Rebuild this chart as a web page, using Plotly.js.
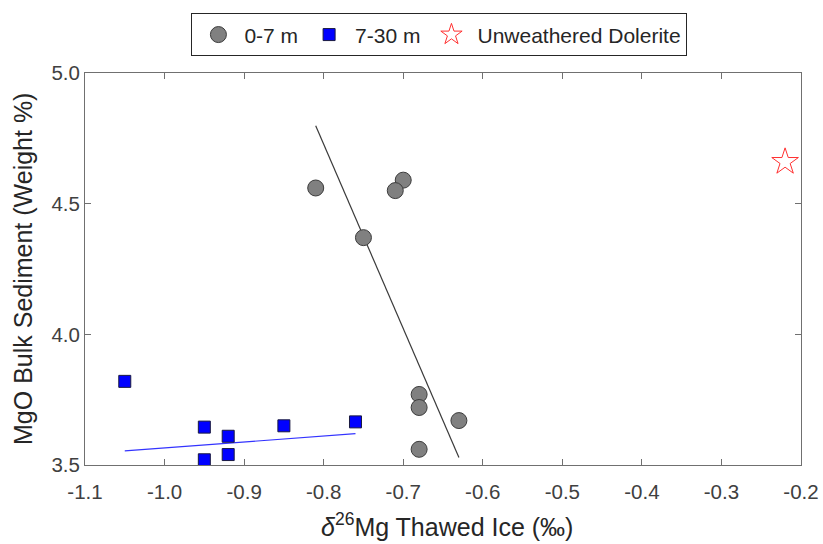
<!DOCTYPE html>
<html>
<head>
<meta charset="utf-8">
<script src="https://cdn.plot.ly/plotly-3.0.1.min.js"></script>
<style>
  html, body { margin: 0; padding: 0; background: #ffffff; }
  #chart { width: 823px; height: 544px; }
</style>
</head>
<body>
<div id="chart"></div>
<script>
// δ26Mg of thawed ice vs. MgO content of bulk sediment
const shallowD26Mg = [-0.81, -0.70, -0.71, -0.75, -0.68, -0.68, -0.63, -0.68];
const shallowMgO   = [4.56, 4.59, 4.55, 4.37, 3.77, 3.72, 3.67, 3.56];

const deepD26Mg = [-1.05, -0.95, -0.95, -0.92, -0.92, -0.85, -0.76];
const deepMgO   = [3.82, 3.645, 3.52, 3.61, 3.54, 3.65, 3.665];

const doleriteD26Mg = [-0.22];
const doleriteMgO   = [4.66];

// Regression lines (end points)
const shallowFitX = [-0.81, -0.63];
const shallowFitY = [4.798, 3.529];
const deepFitX = [-1.05, -0.76];
const deepFitY = [3.554, 3.62];

const xTicks = [-1.1, -1.0, -0.9, -0.8, -0.7, -0.6, -0.5, -0.4, -0.3, -0.2];
const xTickLabels = ['-1.1', '-1.0', '-0.9', '-0.8', '-0.7', '-0.6', '-0.5', '-0.4', '-0.3', '-0.2'];
const yTicks = [3.5, 4.0, 4.5, 5.0];
const yTickLabels = ['3.5', '4.0', '4.5', '5.0'];

const xTitle = '<i>δ</i><sup>26</sup>Mg Thawed Ice (‰)';
const yTitle = 'MgO Bulk Sediment (Weight %)';

const FONT = 'Liberation Sans, Arial, Helvetica, sans-serif';
const INK = '#262626';

const traces = [
  {
    x: shallowFitX, y: shallowFitY, mode: 'lines', showlegend: false, hoverinfo: 'skip',
    line: { color: '#3a3a3a', width: 1.2 }
  },
  {
    x: deepFitX, y: deepFitY, mode: 'lines', showlegend: false, hoverinfo: 'skip',
    line: { color: '#3333ff', width: 1.2 }
  },
  {
    x: shallowD26Mg, y: shallowMgO, mode: 'markers', name: '0-7 m',
    marker: { symbol: 'circle', size: 16, color: '#808080', line: { color: '#3c3c3c', width: 1 } }
  },
  {
    x: deepD26Mg, y: deepMgO, mode: 'markers', name: '7-30 m',
    marker: { symbol: 'square', size: 12, color: '#0000ff', line: { color: '#1a1a40', width: 1 } }
  },
  {
    x: doleriteD26Mg, y: doleriteMgO, mode: 'markers', name: 'Unweathered Dolerite',
    marker: { symbol: 'star-open', size: 20, color: '#ff3030', line: { color: '#ff3030', width: 1 } }
  }
];

const axisCommon = {
  showline: true, mirror: 'ticks', linecolor: '#707070', linewidth: 1,
  ticks: 'inside', ticklen: 6, tickwidth: 1, tickcolor: '#707070',
  showgrid: false, zeroline: false,
  tickfont: { family: FONT, size: 20.5, color: '#404040' }
};

const layout = {
  width: 823, height: 544,
  margin: { l: 85, r: 22, t: 73, b: 79 },
  paper_bgcolor: '#ffffff', plot_bgcolor: '#ffffff',
  font: { family: FONT, color: INK },
  xaxis: Object.assign({}, axisCommon, {
    range: [-1.1, -0.2], tickmode: 'array', tickvals: xTicks, ticktext: xTickLabels,
    ticklabelstandoff: 8
  }),
  yaxis: Object.assign({}, axisCommon, {
    range: [3.5, 5.0], tickmode: 'array', tickvals: yTicks, ticktext: yTickLabels
  }),
  annotations: [
    {
      text: xTitle, xref: 'paper', yref: 'paper', x: 0.5, y: -0.152,
      xanchor: 'center', yanchor: 'middle', xshift: 4, showarrow: false,
      font: { family: FONT, size: 25, color: INK }
    },
    {
      text: yTitle, xref: 'paper', yref: 'paper', x: -0.0866, y: 0.5,
      xanchor: 'center', yanchor: 'middle', textangle: -90, showarrow: false,
      font: { family: FONT, size: 25, color: INK }
    }
  ],
  legend: {
    orientation: 'h', x: 0.495, xanchor: 'center', y: 1.152, yanchor: 'top',
    bgcolor: '#ffffff', bordercolor: '#262626', borderwidth: 1,
    itemwidth: 42,
    font: { family: FONT, size: 21, color: INK }
  },
  showlegend: true
};

Plotly.newPlot('chart', traces, layout, { displayModeBar: false, staticPlot: true });
</script>
</body>
</html>
